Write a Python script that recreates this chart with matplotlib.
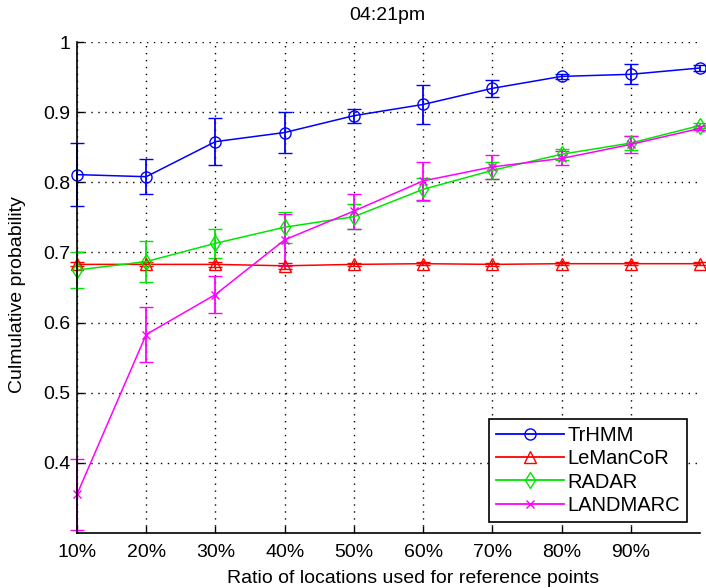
import matplotlib
matplotlib.use("Agg")
import matplotlib.pyplot as plt
from matplotlib.lines import Line2D

plt.rcParams['font.family'] = ['Liberation Sans', 'DejaVu Sans']

x = [10, 20, 30, 40, 50, 60, 70, 80, 90, 100]
xtick_labels = ['10%', '20%', '30%', '40%', '50%', '60%', '70%', '80%', '90%']

trhmm = [0.811, 0.808, 0.858, 0.871, 0.895, 0.911, 0.934, 0.951, 0.954, 0.963]
trhmm_err = [0.045, 0.025, 0.034, 0.029, 0.010, 0.028, 0.012, 0.003, 0.014, 0.004]

lemancor = [0.683, 0.683, 0.683, 0.681, 0.683, 0.684, 0.683, 0.684, 0.684, 0.684]
lemancor_err = [0.003, 0.003, 0.004, 0.004, 0.002, 0.002, 0.002, 0.002, 0.002, 0.002]

radar = [0.675, 0.687, 0.713, 0.736, 0.751, 0.790, 0.817, 0.840, 0.856, 0.881]
radar_err = [0.025, 0.029, 0.021, 0.022, 0.018, 0.016, 0.012, 0.008, 0.010, 0.003]

landmarc = [0.355, 0.583, 0.640, 0.718, 0.759, 0.802, 0.822, 0.834, 0.854, 0.877]
landmarc_err = [0.050, 0.039, 0.026, 0.037, 0.025, 0.027, 0.017, 0.010, 0.012, 0.003]

series = [
    ('TrHMM', trhmm, trhmm_err, (0, 0, 1), 'o', 8),
    ('LeManCoR', lemancor, lemancor_err, (1, 0, 0), '^', 8),
    ('RADAR', radar, radar_err, (0, 0.9, 0), 'd', 8),
    ('LANDMARC', landmarc, landmarc_err, (1, 0, 1), 'x', 6),
]

fig = plt.figure(figsize=(7.06, 5.88), dpi=100)
ax = fig.add_axes([0.109, 0.0935, 0.8825, 0.835])

handles = []
for name, y, e, c, m, ms in series:
    ax.errorbar(x, y, yerr=e, color=c, marker=m, markersize=ms, markerfacecolor='none',
                markeredgecolor=c, markeredgewidth=1.0, linewidth=1.1, capsize=5,
                elinewidth=1.3, capthick=1.3, clip_on=False)
    handles.append(Line2D([], [], color=c, marker=m, markersize=ms, markerfacecolor='none',
                          markeredgecolor=c, linewidth=1.3, label=name))

ax.set_xlim(10, 100)
ax.set_ylim(0.3, 1.0)
ax.set_xticks(x[:-1])
ax.set_xticklabels(xtick_labels)
ax.set_yticks([0.4, 0.5, 0.6, 0.7, 0.8, 0.9, 1.0])
ax.set_yticklabels(['0.4', '0.5', '0.6', '0.7', '0.8', '0.9', '1'])
ax.tick_params(direction='in', labelsize=14, length=5, width=1)
ax.tick_params(axis='x', pad=8)
ax.tick_params(axis='y', pad=5)
ax.grid(True, color='black', linestyle=(0, (1, 4)), linewidth=1.0)
ax.spines['top'].set_visible(False)
ax.spines['right'].set_visible(False)
for s in ('left', 'bottom'):
    ax.spines[s].set_linewidth(1.2)

ax.set_xlabel('Ratio of locations used for reference points', fontsize=14)
ax.xaxis.set_label_coords((413 - 77) / 623, -(583 - 533) / 491, transform=ax.transAxes)
ax.xaxis.label.set_va('baseline')
ax.set_ylabel('Culmulative probability', fontsize=14)
ax.yaxis.set_label_coords(-(77 - 18) / 623, (533 - 295) / 491, transform=ax.transAxes)
ax.yaxis.label.set_va('center')
fig.text(387 / 706, 1 - 16 / 588, '04:21pm', ha='center', va='center', fontsize=14)

leg = ax.legend(handles=handles, loc='lower right', bbox_to_anchor=(0.979, 0.0224), fontsize=14.5,
                fancybox=False, framealpha=1, edgecolor='black', handlelength=3.4,
                borderpad=0.35, labelspacing=0.22, handletextpad=0.15, borderaxespad=0)
leg.get_frame().set_linewidth(1.2)

fig.savefig('out.png', dpi=100)
